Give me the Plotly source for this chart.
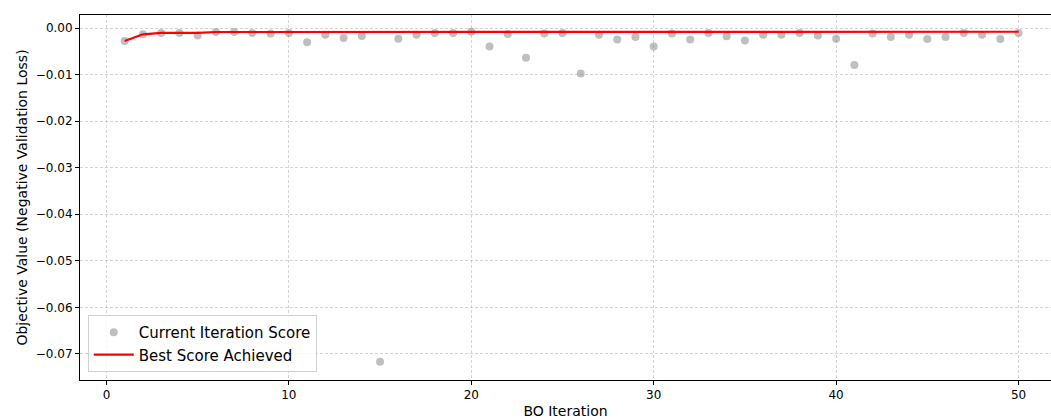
import plotly.graph_objects as go

iterations = list(range(1, 51))
scores = [
    -0.0028, -0.00135, -0.00106, -0.00106, -0.00163, -0.00085, -0.00085, -0.00106, -0.0012, -0.00106,
    -0.00305, -0.00142, -0.00213, -0.0017, -0.0717, -0.00232, -0.00142, -0.00106, -0.00106, -0.0008,
    -0.00397, -0.00128, -0.00638, -0.0012, -0.00106, -0.00979, -0.00142, -0.00248, -0.00191, -0.00397,
    -0.0012, -0.00248, -0.00106, -0.00177, -0.0027, -0.00142, -0.00142, -0.00106, -0.00163, -0.0023,
    -0.00794, -0.0012, -0.00191, -0.00142, -0.00234, -0.00191, -0.00106, -0.00142, -0.00234, -0.00106,
]
best = []
cur = None
for s in scores:
    cur = s if cur is None else max(cur, s)
    best.append(cur)

y_ticks = [0.00, -0.01, -0.02, -0.03, -0.04, -0.05, -0.06, -0.07]
x_ticks = [0, 10, 20, 30, 40, 50]

font = "DejaVu Sans, Liberation Sans, sans-serif"

fig = go.Figure()
fig.add_trace(go.Scatter(
    x=iterations, y=scores, mode="markers", name="Current Iteration Score",
    marker=dict(color="rgba(128,128,128,0.5)", size=8, line=dict(width=0)),
))
fig.add_trace(go.Scatter(
    x=iterations, y=best, mode="lines", name="Best Score Achieved",
    line=dict(color="red", width=2.2),
))

grid = dict(showgrid=True, gridcolor="rgba(176,176,176,0.55)", gridwidth=0.6, griddash="3px,2px")
fig.update_layout(
    width=1051, height=419,
    margin=dict(l=80, r=0, t=15, b=39),
    paper_bgcolor="white", plot_bgcolor="white",
    font=dict(family=font, color="black"),
    showlegend=True,
    legend=dict(
        x=0.008, y=0.022, xanchor="left", yanchor="bottom",
        bgcolor="rgba(255,255,255,0.8)", bordercolor="#d0d0d0", borderwidth=1,
        font=dict(size=15, family=font), tracegroupgap=0, itemwidth=40,
    ),
    xaxis=dict(
        range=[-1.45, 51.78], tickvals=x_ticks, ticks="outside", ticklen=4, tickwidth=1,
        tickcolor="black", showline=True, linecolor="black", linewidth=1, mirror=True,
        zeroline=False, tickfont=dict(size=12), automargin=False,
        title=dict(text="BO Iteration", font=dict(size=14), standoff=8),
        **grid,
    ),
    yaxis=dict(
        range=[-0.0756, 0.0028], tickvals=y_ticks, tickformat=".2f", ticks="outside",
        ticklen=4, tickwidth=1, tickcolor="black", showline=True, linecolor="black",
        linewidth=1, mirror=False, zeroline=False, tickfont=dict(size=12), automargin=False,
        title=dict(text="Objective Value (Negative Validation Loss)", font=dict(size=14), standoff=4),
        **grid,
    ),
)

fig.write_html(
    "out.html",
    config={"displayModeBar": False},
    post_script=["document.body.style.margin='0';document.body.style.overflow='hidden';"],
)
